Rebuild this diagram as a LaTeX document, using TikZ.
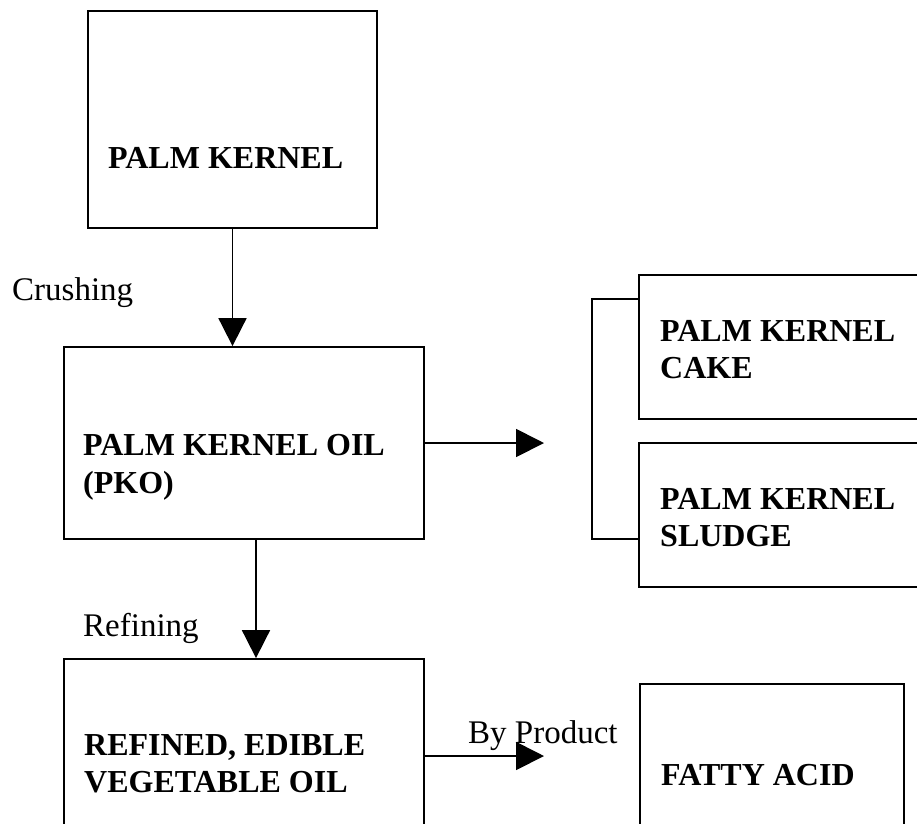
\documentclass[tikz,border=0pt]{standalone}
\usepackage{fontspec}
\setmainfont{Liberation Serif}
\usetikzlibrary{arrows.meta}
\tikzset{
  box/.style={draw=black, line width=1.8pt, rectangle, inner sep=0pt},
  boxtext/.style={anchor=base west, inner sep=0pt, font=\fontsize{32}{38}\selectfont\bfseries},
  steplabel/.style={anchor=base west, inner sep=0pt, font=\fontsize{33}{40}\selectfont},
  conn/.style={line width=1.8pt, draw=black},
  arr/.style={conn, -{Triangle[length=28pt,width=28pt]}}
}
\begin{document}
\begin{tikzpicture}[x=1pt,y=-1pt]
\useasboundingbox (0,0) rectangle (917,823);
\clip (0,0) rectangle (917,823);
% boxes
\node[box, minimum width=289pt, minimum height=217pt] (pk) at (232.5,119.5) {};
\node[box, minimum width=360pt, minimum height=192pt] (pko) at (244,443) {};
\node[box, minimum width=301pt, minimum height=144pt] (cake) at (789.5,347) {};
\node[box, minimum width=301pt, minimum height=144pt] (sludge) at (789.5,515) {};
\node[box, minimum width=360pt, minimum height=241pt] (ref) at (244,779.5) {};
\node[box, minimum width=264pt, minimum height=216pt] (fatty) at (772,792) {};
% box texts
\node[boxtext] (pkt) at (108,168) {PALM KERNEL};
\node[boxtext] (pkot1) at (83,455) {PALM KERNEL OIL};
\node[boxtext] (pkot2) at (83,493) {(PKO)};
\node[boxtext] (caket1) at (660,341) {PALM KERNEL};
\node[boxtext] (caket2) at (660,378) {CAKE};
\node[boxtext] (sludget1) at (660,509) {PALM KERNEL};
\node[boxtext] (sludget2) at (660,546) {SLUDGE};
\node[boxtext] (reft1) at (84,755) {REFINED, EDIBLE};
\node[boxtext] (reft2) at (84,792) {VEGETABLE OIL};
\node[boxtext] (fattyt) at (661,785) {FATTY ACID};
% labels
\node[steplabel] (crush) at (12,300) {Crushing};
\node[steplabel] (refin) at (83,636) {Refining};
\node[steplabel] (byprod) at (468,743) {By Product};
% connectors
\draw[arr] (pk.south) -- (pk.south |- pko.north);
\draw[arr] ([xshift=12pt]pko.south) -- ([xshift=12pt]pko.south |- ref.north);
\coordinate (pkoend) at (544,443);
\draw[arr] (pko.east |- pkoend) -- (pkoend);
\coordinate (brtop) at (592,299);
\coordinate (brbot) at (592,539);
\draw[conn] (cake.west |- brtop) -- (brtop) -- (brbot) -- (sludge.west |- brbot);
\coordinate (bpend) at (544,756);
\draw[arr] (ref.east |- bpend) -- (bpend);
\end{tikzpicture}
\end{document}
